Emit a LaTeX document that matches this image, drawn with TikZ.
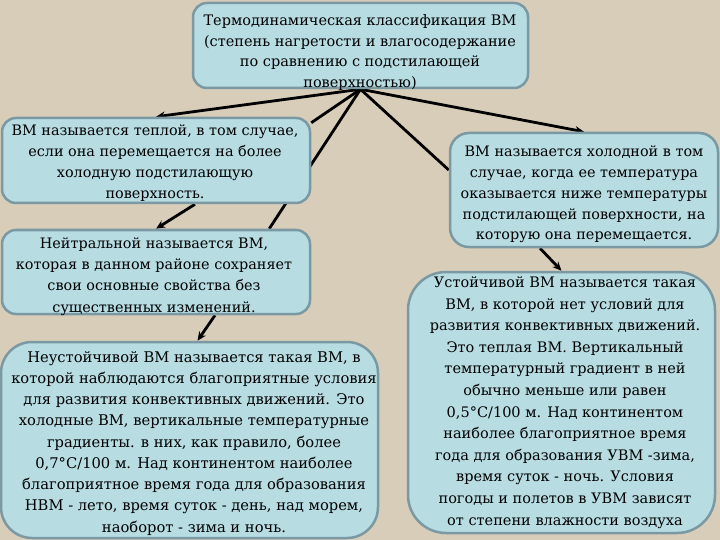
\documentclass[tikz,border=0pt]{standalone}
\usepackage{fontspec}
\setmainfont{DejaVu Serif}
\usetikzlibrary{arrows.meta,calc}
\definecolor{bgc}{HTML}{D8CDB9}
\definecolor{boxfill}{HTML}{B7DCE2}
\definecolor{boxline}{HTML}{7A99A3}
\pgfdeclarelayer{bglayer}
\pgfdeclarelayer{linelayer}
\pgfsetlayers{bglayer,linelayer,main}
\begin{document}
\begin{tikzpicture}[x=1pt,y=-1pt,
 box/.style={draw=boxline, fill=boxfill, line width=2.5pt, inner sep=0pt},
 txt/.style={align=center, inner sep=0pt, anchor=base},
 conn/.style={line width=2.8pt, -{Stealth[length=9pt,width=8pt]}},
 plainline/.style={line width=2.8pt}]
\useasboundingbox (0,0) rectangle (720,540);
\begin{pgfonlayer}{bglayer}
\fill[bgc] (0,0) rectangle (720,540);
\end{pgfonlayer}
% boxes
\node[box, rounded corners=14pt, minimum width=335pt, minimum height=85pt] (top) at (360.5,45.5) {};
\node[box, rounded corners=14pt, minimum width=308pt, minimum height=85pt] (warm) at (156,160.5) {};
\node[box, rounded corners=14pt, minimum width=308pt, minimum height=84pt] (neutral) at (156,272) {};
\node[box, rounded corners=19pt, minimum width=268pt, minimum height=114pt] (cold) at (584,190) {};
\node[box, rounded corners=31pt, minimum width=377pt, minimum height=196pt] (unstable) at (189.5,440) {};
\node[box, rounded corners=38pt, minimum width=307pt, minimum height=261pt] (stable) at (561.5,402.5) {};
% connectors
\begin{pgfonlayer}{linelayer}
\coordinate (hub) at (top.south);
\draw[conn] (hub) -- (warm.north);
\draw[plainline] (hub) -- ([yshift=-6pt]warm.north east);
\draw[plainline] (hub) -- ([xshift=-42pt]neutral.north east);
\draw[conn] (hub) -- (cold.north);
\draw[plainline] (hub) -- ([yshift=20pt]cold.west);
\draw[conn] ([xshift=39pt]warm.south) -- (neutral.north);
\draw[conn] ([xshift=59pt]neutral.south) -- ([xshift=8pt]unstable.north);
\draw[conn] ([xshift=-44pt]cold.south) -- (stable.north);
\end{pgfonlayer}
% texts (anchor = baseline of last line)
\node[txt, font=\fontsize{14.5}{20.7}\selectfont] (ttop) at (360,87.5) {Термодинамическая классификация ВМ\\(степень нагретости и влагосодержание\\по сравнению с подстилающей\\поверхностью)};
\node[txt, font=\fontsize{14.4}{21.3}\selectfont] (twarm) at (155,199) {ВМ называется теплой, в том случае,\\если она перемещается на более\\холодную подстилающую\\поверхность.};
\node[txt, font=\fontsize{14.4}{21.3}\selectfont] (tneutral) at (154,312) {Нейтральной называется ВМ,\\которая в данном районе сохраняет\\свои основные свойства без\\существенных изменений.};
\node[txt, font=\fontsize{14.4}{20.75}\selectfont] (tcold) at (584,240) {ВМ называется холодной в том\\случае, когда ее температура\\оказывается ниже температуры\\подстилающей поверхности, на\\которую она перемещается.};
\node[txt, font=\fontsize{14.7}{21.25}\selectfont] (tunstable) at (194,532) {Неустойчивой ВМ называется такая ВМ, в\\которой наблюдаются благоприятные условия\\для развития конвективных движений. Это\\холодные ВМ, вертикальные температурные\\градиенты. в них, как правило, более\\0,7°C/100 м. Над континентом наиболее\\благоприятное время года для образования\\НВМ - лето, время суток - день, над морем,\\наоборот - зима и ночь.};
\node[txt, font=\fontsize{14.5}{21.6}\selectfont] (tstable) at (565,525) {Устойчивой ВМ называется такая\\ВМ, в которой нет условий для\\развития конвективных движений.\\Это теплая ВМ. Вертикальный\\температурный градиент в ней\\обычно меньше или равен\\0,5°C/100 м. Над континентом\\наиболее благоприятное время\\года для образования УВМ -зима,\\время суток - ночь. Условия\\погоды и полетов в УВМ зависят\\от степени влажности воздуха};
\end{tikzpicture}
\end{document}
